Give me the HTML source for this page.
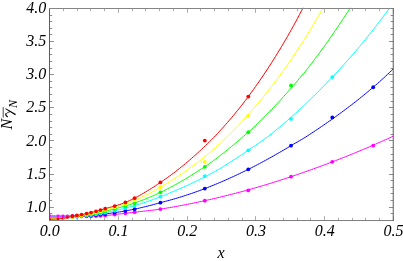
<!DOCTYPE html>
<html><head><meta charset="utf-8"><title>plot</title><style>
html,body{margin:0;padding:0;background:#fff;}
svg{display:block;will-change:transform;transform:translateZ(0);}
text{font-family:"Liberation Serif",serif;font-style:italic;font-size:16px;fill:#000;}
</style></head><body>
<svg width="403" height="261" viewBox="0 0 403 261">
<rect width="403" height="261" fill="#fff"/>
<defs><clipPath id="c"><rect x="49.5" y="7.7" width="343.75" height="212.60"/></clipPath><clipPath id="d"><rect x="49.0" y="0" width="400" height="220.9"/></clipPath></defs>
<g clip-path="url(#c)" fill="none" stroke-width="1.0" stroke-linejoin="round">
<path d="M49.5,215.73 L51.5,215.77 L53.5,215.80 L55.5,215.83 L57.5,215.86 L59.5,215.87 L61.5,215.89 L63.5,215.89 L65.5,215.89 L67.5,215.88 L69.5,215.88 L71.5,215.88 L73.5,215.88 L75.5,215.89 L77.5,215.89 L79.5,215.98 L81.5,216.11 L83.5,216.22 L85.5,216.24 L87.5,216.23 L89.5,216.20 L91.5,216.17 L93.5,216.12 L95.5,216.06 L97.5,215.98 L99.5,215.89 L101.5,215.78 L103.5,215.66 L105.5,215.53 L107.5,215.36 L109.5,215.16 L111.5,214.94 L113.5,214.70 L115.5,214.46 L117.5,214.22 L119.5,213.98 L121.5,213.76 L123.5,213.52 L125.5,213.28 L127.5,213.04 L129.5,212.80 L131.5,212.56 L133.5,212.32 L135.5,212.09 L137.5,211.86 L139.5,211.64 L141.5,211.43 L143.5,211.21 L145.5,210.99 L147.5,210.77 L149.5,210.54 L151.5,210.31 L153.5,210.06 L155.5,209.81 L157.5,209.53 L159.5,209.24 L161.5,208.94 L163.5,208.62 L165.5,208.30 L167.5,207.97 L169.5,207.63 L171.5,207.28 L173.5,206.93 L175.5,206.57 L177.5,206.20 L179.5,205.83 L181.5,205.45 L183.5,205.07 L185.5,204.68 L187.5,204.28 L189.5,203.88 L191.5,203.48 L193.5,203.07 L195.5,202.65 L197.5,202.24 L199.5,201.81 L201.5,201.39 L203.5,200.95 L205.5,200.52 L207.5,200.07 L209.5,199.62 L211.5,199.17 L213.5,198.71 L215.5,198.24 L217.5,197.77 L219.5,197.30 L221.5,196.81 L223.5,196.33 L225.5,195.83 L227.5,195.34 L229.5,194.83 L231.5,194.32 L233.5,193.81 L235.5,193.29 L237.5,192.76 L239.5,192.23 L241.5,191.69 L243.5,191.15 L245.5,190.60 L247.5,190.05 L249.5,189.49 L251.5,188.93 L253.5,188.36 L255.5,187.78 L257.5,187.21 L259.5,186.62 L261.5,186.03 L263.5,185.43 L265.5,184.83 L267.5,184.23 L269.5,183.61 L271.5,183.00 L273.5,182.37 L275.5,181.75 L277.5,181.11 L279.5,180.48 L281.5,179.83 L283.5,179.18 L285.5,178.53 L287.5,177.87 L289.5,177.21 L291.5,176.54 L293.5,175.87 L295.5,175.19 L297.5,174.50 L299.5,173.81 L301.5,173.12 L303.5,172.42 L305.5,171.72 L307.5,171.01 L309.5,170.30 L311.5,169.58 L313.5,168.86 L315.5,168.13 L317.5,167.41 L319.5,166.67 L321.5,165.93 L323.5,165.19 L325.5,164.44 L327.5,163.69 L329.5,162.93 L331.5,162.17 L333.5,161.40 L335.5,160.63 L337.5,159.85 L339.5,159.07 L341.5,158.28 L343.5,157.49 L345.5,156.70 L347.5,155.90 L349.5,155.09 L351.5,154.28 L353.5,153.46 L355.5,152.65 L357.5,151.82 L359.5,150.99 L361.5,150.16 L363.5,149.32 L365.5,148.47 L367.5,147.63 L369.5,146.77 L371.5,145.91 L373.5,145.05 L375.5,144.18 L377.5,143.30 L379.5,142.41 L381.5,141.51 L383.5,140.61 L385.5,139.70 L387.5,138.79 L389.5,137.87 L391.5,136.95 L393.2,136.14" stroke="#ff00ff"/>
<path d="M49.5,217.10 L51.5,217.13 L53.5,217.15 L55.5,217.16 L57.5,217.16 L59.5,217.15 L61.5,217.13 L63.5,217.10 L65.5,217.05 L67.5,217.00 L69.5,216.94 L71.5,216.86 L73.5,216.77 L75.5,216.68 L77.5,216.57 L79.5,216.45 L81.5,216.32 L83.5,216.18 L85.5,216.03 L87.5,215.87 L89.5,215.70 L91.5,215.51 L93.5,215.32 L95.5,215.12 L97.5,214.90 L99.5,214.68 L101.5,214.44 L103.5,214.20 L105.5,213.95 L107.5,213.68 L109.5,213.41 L111.5,213.13 L113.5,212.85 L115.5,212.55 L117.5,212.24 L119.5,211.92 L121.5,211.59 L123.5,211.25 L125.5,210.90 L127.5,210.53 L129.5,210.15 L131.5,209.76 L133.5,209.36 L135.5,208.94 L137.5,208.51 L139.5,208.06 L141.5,207.59 L143.5,207.12 L145.5,206.63 L147.5,206.13 L149.5,205.61 L151.5,205.09 L153.5,204.57 L155.5,204.03 L157.5,203.49 L159.5,202.95 L161.5,202.40 L163.5,201.87 L165.5,201.33 L167.5,200.79 L169.5,200.25 L171.5,199.70 L173.5,199.13 L175.5,198.54 L177.5,197.94 L179.5,197.33 L181.5,196.71 L183.5,196.08 L185.5,195.44 L187.5,194.79 L189.5,194.12 L191.5,193.45 L193.5,192.76 L195.5,192.05 L197.5,191.33 L199.5,190.60 L201.5,189.85 L203.5,189.10 L205.5,188.33 L207.5,187.55 L209.5,186.76 L211.5,185.96 L213.5,185.14 L215.5,184.32 L217.5,183.49 L219.5,182.64 L221.5,181.79 L223.5,180.92 L225.5,180.05 L227.5,179.16 L229.5,178.26 L231.5,177.36 L233.5,176.44 L235.5,175.51 L237.5,174.57 L239.5,173.63 L241.5,172.67 L243.5,171.70 L245.5,170.72 L247.5,169.73 L249.5,168.74 L251.5,167.73 L253.5,166.71 L255.5,165.67 L257.5,164.63 L259.5,163.57 L261.5,162.51 L263.5,161.43 L265.5,160.34 L267.5,159.24 L269.5,158.13 L271.5,157.02 L273.5,155.89 L275.5,154.75 L277.5,153.60 L279.5,152.45 L281.5,151.28 L283.5,150.11 L285.5,148.93 L287.5,147.74 L289.5,146.55 L291.5,145.34 L293.5,144.17 L295.5,143.01 L297.5,141.87 L299.5,140.73 L301.5,139.57 L303.5,138.37 L305.5,137.13 L307.5,135.85 L309.5,134.55 L311.5,133.24 L313.5,131.93 L315.5,130.60 L317.5,129.26 L319.5,127.91 L321.5,126.55 L323.5,125.18 L325.5,123.80 L327.5,122.41 L329.5,121.00 L331.5,119.59 L333.5,118.17 L335.5,116.73 L337.5,115.29 L339.5,113.83 L341.5,112.36 L343.5,110.88 L345.5,109.40 L347.5,107.90 L349.5,106.38 L351.5,104.86 L353.5,103.32 L355.5,101.76 L357.5,100.18 L359.5,98.58 L361.5,96.97 L363.5,95.34 L365.5,93.70 L367.5,92.04 L369.5,90.37 L371.5,88.69 L373.5,86.99 L375.5,85.27 L377.5,83.52 L379.5,81.74 L381.5,79.93 L383.5,78.11 L385.5,76.26 L387.5,74.39 L389.5,72.50 L391.5,70.59 L393.2,68.91" stroke="#0000ff"/>
<path d="M49.5,217.32 L51.5,217.40 L53.5,217.46 L55.5,217.49 L57.5,217.51 L59.5,217.51 L61.5,217.49 L63.5,217.45 L65.5,217.40 L67.5,217.32 L69.5,217.22 L71.5,217.11 L73.5,216.98 L75.5,216.83 L77.5,216.66 L79.5,216.48 L81.5,216.28 L83.5,216.06 L85.5,215.83 L87.5,215.57 L89.5,215.30 L91.5,215.02 L93.5,214.72 L95.5,214.40 L97.5,214.07 L99.5,213.72 L101.5,213.36 L103.5,212.98 L105.5,212.60 L107.5,212.20 L109.5,211.79 L111.5,211.38 L113.5,210.94 L115.5,210.50 L117.5,210.04 L119.5,209.57 L121.5,209.09 L123.5,208.59 L125.5,208.08 L127.5,207.56 L129.5,207.02 L131.5,206.46 L133.5,205.89 L135.5,205.31 L137.5,204.71 L139.5,204.11 L141.5,203.49 L143.5,202.86 L145.5,202.21 L147.5,201.53 L149.5,200.84 L151.5,200.11 L153.5,199.36 L155.5,198.59 L157.5,197.80 L159.5,197.02 L161.5,196.23 L163.5,195.44 L165.5,194.65 L167.5,193.84 L169.5,193.03 L171.5,192.21 L173.5,191.39 L175.5,190.55 L177.5,189.71 L179.5,188.85 L181.5,187.98 L183.5,187.10 L185.5,186.21 L187.5,185.31 L189.5,184.39 L191.5,183.46 L193.5,182.51 L195.5,181.55 L197.5,180.57 L199.5,179.58 L201.5,178.57 L203.5,177.55 L205.5,176.52 L207.5,175.47 L209.5,174.42 L211.5,173.34 L213.5,172.25 L215.5,171.15 L217.5,170.02 L219.5,168.87 L221.5,167.69 L223.5,166.45 L225.5,165.16 L227.5,163.85 L229.5,162.57 L231.5,161.32 L233.5,160.06 L235.5,158.79 L237.5,157.51 L239.5,156.21 L241.5,154.90 L243.5,153.57 L245.5,152.23 L247.5,150.87 L249.5,149.50 L251.5,148.12 L253.5,146.74 L255.5,145.37 L257.5,143.98 L259.5,142.59 L261.5,141.17 L263.5,139.74 L265.5,138.28 L267.5,136.79 L269.5,135.26 L271.5,133.71 L273.5,132.12 L275.5,130.51 L277.5,128.87 L279.5,127.21 L281.5,125.53 L283.5,123.82 L285.5,122.10 L287.5,120.35 L289.5,118.59 L291.5,116.81 L293.5,115.02 L295.5,113.22 L297.5,111.40 L299.5,109.58 L301.5,107.75 L303.5,105.90 L305.5,104.03 L307.5,102.14 L309.5,100.23 L311.5,98.30 L313.5,96.35 L315.5,94.38 L317.5,92.38 L319.5,90.37 L321.5,88.34 L323.5,86.30 L325.5,84.23 L327.5,82.15 L329.5,80.05 L331.5,77.94 L333.5,75.82 L335.5,73.67 L337.5,71.52 L339.5,69.35 L341.5,67.17 L343.5,64.97 L345.5,62.74 L347.5,60.50 L349.5,58.23 L351.5,55.94 L353.5,53.63 L355.5,51.29 L357.5,48.93 L359.5,46.56 L361.5,44.15 L363.5,41.73 L365.5,39.28 L367.5,36.81 L369.5,34.32 L371.5,31.80 L373.5,29.26 L375.5,26.70 L377.5,24.11 L379.5,21.50 L381.5,18.86 L383.5,16.20 L385.5,13.52 L387.5,10.81 L389.5,8.07 L391.5,5.32" stroke="#00ffff"/>
<path d="M49.5,218.19 L51.5,218.15 L53.5,218.10 L55.5,218.03 L57.5,217.95 L59.5,217.86 L61.5,217.75 L63.5,217.62 L65.5,217.48 L67.5,217.32 L69.5,217.13 L71.5,216.91 L73.5,216.66 L75.5,216.39 L77.5,216.12 L79.5,215.85 L81.5,215.58 L83.5,215.30 L85.5,215.00 L87.5,214.68 L89.5,214.35 L91.5,214.00 L93.5,213.64 L95.5,213.26 L97.5,212.86 L99.5,212.44 L101.5,212.01 L103.5,211.56 L105.5,211.10 L107.5,210.63 L109.5,210.15 L111.5,209.67 L113.5,209.18 L115.5,208.67 L117.5,208.14 L119.5,207.60 L121.5,207.05 L123.5,206.48 L125.5,205.90 L127.5,205.30 L129.5,204.68 L131.5,204.04 L133.5,203.38 L135.5,202.69 L137.5,201.98 L139.5,201.26 L141.5,200.51 L143.5,199.75 L145.5,198.96 L147.5,198.15 L149.5,197.31 L151.5,196.44 L153.5,195.55 L155.5,194.65 L157.5,193.73 L159.5,192.79 L161.5,191.83 L163.5,190.85 L165.5,189.86 L167.5,188.84 L169.5,187.81 L171.5,186.76 L173.5,185.69 L175.5,184.60 L177.5,183.49 L179.5,182.36 L181.5,181.22 L183.5,180.05 L185.5,178.87 L187.5,177.66 L189.5,176.44 L191.5,175.20 L193.5,173.94 L195.5,172.66 L197.5,171.36 L199.5,170.04 L201.5,168.79 L203.5,167.66 L205.5,166.36 L207.5,164.95 L209.5,163.53 L211.5,162.08 L213.5,160.61 L215.5,159.12 L217.5,157.61 L219.5,156.08 L221.5,154.53 L223.5,152.96 L225.5,151.37 L227.5,149.76 L229.5,148.14 L231.5,146.50 L233.5,144.84 L235.5,143.17 L237.5,141.48 L239.5,139.78 L241.5,138.05 L243.5,136.31 L245.5,134.62 L247.5,132.92 L249.5,131.17 L251.5,129.32 L253.5,127.44 L255.5,125.55 L257.5,123.63 L259.5,121.69 L261.5,119.72 L263.5,117.74 L265.5,115.73 L267.5,113.70 L269.5,111.65 L271.5,109.58 L273.5,107.48 L275.5,105.37 L277.5,103.22 L279.5,101.06 L281.5,98.88 L283.5,96.68 L285.5,94.46 L287.5,92.22 L289.5,89.96 L291.5,87.67 L293.5,85.37 L295.5,83.05 L297.5,80.70 L299.5,78.33 L301.5,75.97 L303.5,73.64 L305.5,71.20 L307.5,68.69 L309.5,66.14 L311.5,63.56 L313.5,60.93 L315.5,58.27 L317.5,55.58 L319.5,52.86 L321.5,50.12 L323.5,47.35 L325.5,44.55 L327.5,41.74 L329.5,38.90 L331.5,36.04 L333.5,33.16 L335.5,30.24 L337.5,27.30 L339.5,24.33 L341.5,21.34 L343.5,18.32 L345.5,15.28 L347.5,12.22 L349.5,9.13 L351.5,6.02 L353.5,2.89" stroke="#00ff00"/>
<path d="M49.5,218.86 L51.5,218.80 L53.5,218.73 L55.5,218.64 L57.5,218.53 L59.5,218.40 L61.5,218.25 L63.5,218.09 L65.5,217.91 L67.5,217.70 L69.5,217.44 L71.5,217.13 L73.5,216.79 L75.5,216.42 L77.5,216.05 L79.5,215.70 L81.5,215.37 L83.5,215.02 L85.5,214.64 L87.5,214.25 L89.5,213.84 L91.5,213.42 L93.5,212.97 L95.5,212.50 L97.5,212.01 L99.5,211.51 L101.5,210.98 L103.5,210.44 L105.5,209.87 L107.5,209.31 L109.5,208.76 L111.5,208.20 L113.5,207.64 L115.5,207.06 L117.5,206.45 L119.5,205.81 L121.5,205.18 L123.5,204.53 L125.5,203.86 L127.5,203.16 L129.5,202.44 L131.5,201.67 L133.5,200.86 L135.5,200.00 L137.5,199.11 L139.5,198.20 L141.5,197.28 L143.5,196.33 L145.5,195.36 L147.5,194.36 L149.5,193.35 L151.5,192.31 L153.5,191.22 L155.5,190.09 L157.5,188.94 L159.5,187.78 L161.5,186.63 L163.5,185.45 L165.5,184.26 L167.5,183.04 L169.5,181.81 L171.5,180.55 L173.5,179.27 L175.5,177.97 L177.5,176.65 L179.5,175.31 L181.5,173.94 L183.5,172.55 L185.5,171.15 L187.5,169.71 L189.5,168.26 L191.5,166.81 L193.5,165.37 L195.5,163.94 L197.5,162.47 L199.5,160.95 L201.5,159.36 L203.5,157.74 L205.5,156.10 L207.5,154.43 L209.5,152.74 L211.5,151.02 L213.5,149.27 L215.5,147.50 L217.5,145.71 L219.5,143.89 L221.5,142.04 L223.5,140.17 L225.5,138.27 L227.5,136.34 L229.5,134.38 L231.5,132.39 L233.5,130.36 L235.5,128.30 L237.5,126.20 L239.5,124.08 L241.5,121.93 L243.5,119.75 L245.5,117.54 L247.5,115.31 L249.5,113.05 L251.5,110.76 L253.5,108.45 L255.5,106.12 L257.5,103.77 L259.5,101.40 L261.5,98.99 L263.5,96.55 L265.5,94.09 L267.5,91.59 L269.5,89.05 L271.5,86.49 L273.5,83.89 L275.5,81.26 L277.5,78.60 L279.5,75.90 L281.5,73.17 L283.5,70.40 L285.5,67.59 L287.5,64.75 L289.5,61.87 L291.5,58.94 L293.5,55.99 L295.5,52.99 L297.5,49.96 L299.5,46.89 L301.5,43.78 L303.5,40.64 L305.5,37.46 L307.5,34.25 L309.5,30.99 L311.5,27.69 L313.5,24.35 L315.5,20.97 L317.5,17.55 L319.5,14.08 L321.5,10.58 L323.5,7.02 L325.5,3.42" stroke="#ffff00"/>
<path d="M49.5,219.27 L51.5,219.24 L53.5,219.17 L55.5,219.07 L57.5,218.92 L59.5,218.74 L61.5,218.53 L63.5,218.30 L65.5,217.94 L67.5,217.52 L69.5,216.98 L71.5,216.43 L73.5,216.07 L75.5,215.73 L77.5,215.38 L79.5,215.01 L81.5,214.63 L83.5,214.24 L85.5,213.82 L87.5,213.39 L89.5,212.94 L91.5,212.47 L93.5,211.98 L95.5,211.46 L97.5,210.92 L99.5,210.36 L101.5,209.78 L103.5,209.18 L105.5,208.55 L107.5,207.97 L109.5,207.45 L111.5,206.95 L113.5,206.42 L115.5,205.82 L117.5,205.21 L119.5,204.57 L121.5,203.90 L123.5,203.16 L125.5,202.34 L127.5,201.47 L129.5,200.57 L131.5,199.64 L133.5,198.68 L135.5,197.68 L137.5,196.62 L139.5,195.52 L141.5,194.38 L143.5,193.21 L145.5,192.00 L147.5,190.78 L149.5,189.55 L151.5,188.30 L153.5,187.02 L155.5,185.72 L157.5,184.40 L159.5,183.07 L161.5,181.72 L163.5,180.35 L165.5,178.95 L167.5,177.53 L169.5,176.09 L171.5,174.61 L173.5,173.11 L175.5,171.59 L177.5,170.03 L179.5,168.45 L181.5,166.85 L183.5,165.22 L185.5,163.56 L187.5,161.88 L189.5,160.18 L191.5,158.45 L193.5,156.69 L195.5,154.91 L197.5,153.11 L199.5,151.27 L201.5,149.41 L203.5,147.52 L205.5,145.60 L207.5,143.68 L209.5,141.74 L211.5,139.76 L213.5,137.74 L215.5,135.66 L217.5,133.53 L219.5,131.37 L221.5,129.18 L223.5,126.96 L225.5,124.71 L227.5,122.43 L229.5,120.11 L231.5,117.77 L233.5,115.39 L235.5,112.98 L237.5,110.53 L239.5,108.05 L241.5,105.53 L243.5,102.98 L245.5,100.37 L247.5,97.70 L249.5,94.98 L251.5,92.22 L253.5,89.43 L255.5,86.63 L257.5,83.79 L259.5,80.91 L261.5,78.00 L263.5,75.04 L265.5,72.05 L267.5,69.01 L269.5,65.94 L271.5,62.83 L273.5,59.67 L275.5,56.48 L277.5,53.24 L279.5,49.97 L281.5,46.65 L283.5,43.29 L285.5,39.88 L287.5,36.43 L289.5,32.93 L291.5,29.38 L293.5,25.77 L295.5,22.11 L297.5,18.39 L299.5,14.62 L301.5,10.79 L303.5,6.90 L305.5,2.95" stroke="#ff0000"/>
</g>
<g clip-path="url(#d)">
<circle cx="49.5" cy="215.73" r="1.45" fill="#ff00ff"/>
<circle cx="58.0" cy="215.86" r="1.45" fill="#ff00ff"/>
<circle cx="62.9" cy="215.89" r="1.45" fill="#ff00ff"/>
<circle cx="67.4" cy="215.88" r="1.45" fill="#ff00ff"/>
<circle cx="72.4" cy="215.88" r="1.9" fill="#ff00ff"/>
<circle cx="76.9" cy="215.89" r="1.9" fill="#ff00ff"/>
<circle cx="81.6" cy="216.11" r="1.9" fill="#ff00ff"/>
<circle cx="86.6" cy="216.24" r="1.9" fill="#ff00ff"/>
<circle cx="91.0" cy="216.18" r="1.9" fill="#ff00ff"/>
<circle cx="96.0" cy="216.04" r="1.9" fill="#ff00ff"/>
<circle cx="100.5" cy="215.84" r="1.9" fill="#ff00ff"/>
<circle cx="105.2" cy="215.55" r="1.9" fill="#ff00ff"/>
<circle cx="114.7" cy="214.56" r="1.9" fill="#ff00ff"/>
<circle cx="125.4" cy="213.30" r="1.9" fill="#ff00ff"/>
<circle cx="134.6" cy="212.19" r="1.9" fill="#ff00ff"/>
<circle cx="160.4" cy="209.11" r="1.9" fill="#ff00ff"/>
<circle cx="204.8" cy="200.67" r="1.9" fill="#ff00ff"/>
<circle cx="248.3" cy="190.30" r="1.9" fill="#ff00ff"/>
<circle cx="291.0" cy="176.71" r="1.9" fill="#ff00ff"/>
<circle cx="332.3" cy="161.86" r="1.9" fill="#ff00ff"/>
<circle cx="373.2" cy="145.60" r="1.9" fill="#ff00ff"/>
<circle cx="72.4" cy="216.82" r="1.9" fill="#0000ff"/>
<circle cx="76.9" cy="216.60" r="1.9" fill="#0000ff"/>
<circle cx="81.6" cy="216.31" r="1.9" fill="#0000ff"/>
<circle cx="86.6" cy="215.94" r="1.9" fill="#0000ff"/>
<circle cx="91.0" cy="215.56" r="1.9" fill="#0000ff"/>
<circle cx="96.0" cy="215.06" r="1.9" fill="#0000ff"/>
<circle cx="100.5" cy="214.56" r="1.9" fill="#0000ff"/>
<circle cx="105.2" cy="213.99" r="1.9" fill="#0000ff"/>
<circle cx="114.7" cy="212.67" r="1.9" fill="#0000ff"/>
<circle cx="125.4" cy="210.91" r="1.9" fill="#0000ff"/>
<circle cx="134.6" cy="209.13" r="1.9" fill="#0000ff"/>
<circle cx="160.4" cy="202.70" r="1.9" fill="#0000ff"/>
<circle cx="204.8" cy="188.60" r="1.9" fill="#0000ff"/>
<circle cx="248.3" cy="169.34" r="1.9" fill="#0000ff"/>
<circle cx="291.0" cy="145.64" r="1.9" fill="#0000ff"/>
<circle cx="332.3" cy="117.40" r="1.9" fill="#0000ff"/>
<circle cx="373.2" cy="87.25" r="1.9" fill="#0000ff"/>
<circle cx="72.4" cy="217.05" r="1.9" fill="#00ffff"/>
<circle cx="76.9" cy="216.72" r="1.9" fill="#00ffff"/>
<circle cx="81.6" cy="216.27" r="1.9" fill="#00ffff"/>
<circle cx="86.6" cy="215.69" r="1.9" fill="#00ffff"/>
<circle cx="91.0" cy="215.09" r="1.9" fill="#00ffff"/>
<circle cx="96.0" cy="214.32" r="1.9" fill="#00ffff"/>
<circle cx="100.5" cy="213.54" r="1.9" fill="#00ffff"/>
<circle cx="105.2" cy="212.66" r="1.9" fill="#00ffff"/>
<circle cx="114.7" cy="210.68" r="1.9" fill="#00ffff"/>
<circle cx="125.4" cy="208.11" r="1.9" fill="#00ffff"/>
<circle cx="134.6" cy="205.57" r="1.9" fill="#00ffff"/>
<circle cx="160.4" cy="196.66" r="1.9" fill="#00ffff"/>
<circle cx="204.8" cy="176.10" r="1.9" fill="#00ffff"/>
<circle cx="248.3" cy="150.32" r="1.9" fill="#00ffff"/>
<circle cx="291.0" cy="118.90" r="1.9" fill="#00ffff"/>
<circle cx="332.3" cy="77.09" r="1.9" fill="#00ffff"/>
<circle cx="72.4" cy="216.80" r="1.9" fill="#00ff00"/>
<circle cx="76.9" cy="216.20" r="1.9" fill="#00ff00"/>
<circle cx="81.6" cy="215.57" r="1.9" fill="#00ff00"/>
<circle cx="86.6" cy="214.83" r="1.9" fill="#00ff00"/>
<circle cx="91.0" cy="214.09" r="1.9" fill="#00ff00"/>
<circle cx="96.0" cy="213.16" r="1.9" fill="#00ff00"/>
<circle cx="100.5" cy="212.23" r="1.9" fill="#00ff00"/>
<circle cx="105.2" cy="211.17" r="1.9" fill="#00ff00"/>
<circle cx="114.7" cy="208.88" r="1.9" fill="#00ff00"/>
<circle cx="125.4" cy="205.93" r="1.9" fill="#00ff00"/>
<circle cx="134.6" cy="203.00" r="1.9" fill="#00ff00"/>
<circle cx="160.4" cy="192.36" r="1.9" fill="#00ff00"/>
<circle cx="204.8" cy="166.84" r="1.9" fill="#00ff00"/>
<circle cx="248.3" cy="132.23" r="1.9" fill="#00ff00"/>
<circle cx="291.0" cy="85.40" r="1.9" fill="#00ff00"/>
<circle cx="72.4" cy="216.98" r="1.9" fill="#ffff00"/>
<circle cx="76.9" cy="216.16" r="1.9" fill="#ffff00"/>
<circle cx="81.6" cy="215.35" r="1.9" fill="#ffff00"/>
<circle cx="86.6" cy="214.43" r="1.9" fill="#ffff00"/>
<circle cx="91.0" cy="213.52" r="1.9" fill="#ffff00"/>
<circle cx="96.0" cy="212.38" r="1.9" fill="#ffff00"/>
<circle cx="100.5" cy="211.25" r="1.9" fill="#ffff00"/>
<circle cx="105.2" cy="209.96" r="1.9" fill="#ffff00"/>
<circle cx="114.7" cy="207.29" r="1.9" fill="#ffff00"/>
<circle cx="125.4" cy="203.89" r="1.9" fill="#ffff00"/>
<circle cx="134.6" cy="200.39" r="1.9" fill="#ffff00"/>
<circle cx="160.4" cy="187.26" r="1.9" fill="#ffff00"/>
<circle cx="204.8" cy="161.90" r="1.9" fill="#ffff00"/>
<circle cx="248.3" cy="115.80" r="1.9" fill="#ffff00"/>
<circle cx="49.5" cy="219.27" r="1.45" fill="#ff0000"/>
<circle cx="58.0" cy="218.88" r="1.45" fill="#ff0000"/>
<circle cx="62.9" cy="218.38" r="1.45" fill="#ff0000"/>
<circle cx="67.4" cy="217.55" r="1.45" fill="#ff0000"/>
<circle cx="72.4" cy="216.26" r="1.9" fill="#ff0000"/>
<circle cx="76.9" cy="215.49" r="1.9" fill="#ff0000"/>
<circle cx="81.6" cy="214.61" r="1.9" fill="#ff0000"/>
<circle cx="86.6" cy="213.59" r="1.9" fill="#ff0000"/>
<circle cx="91.0" cy="212.59" r="1.9" fill="#ff0000"/>
<circle cx="96.0" cy="211.33" r="1.9" fill="#ff0000"/>
<circle cx="100.5" cy="210.08" r="1.9" fill="#ff0000"/>
<circle cx="105.2" cy="208.64" r="1.9" fill="#ff0000"/>
<circle cx="114.7" cy="206.06" r="1.9" fill="#ff0000"/>
<circle cx="125.4" cy="202.38" r="1.9" fill="#ff0000"/>
<circle cx="134.6" cy="198.13" r="1.9" fill="#ff0000"/>
<circle cx="160.4" cy="182.46" r="1.9" fill="#ff0000"/>
<circle cx="204.8" cy="140.60" r="1.9" fill="#ff0000"/>
<circle cx="248.3" cy="96.62" r="1.9" fill="#ff0000"/>
</g>
<path d="M49.5,220.5v-4.3M49.5,8.5v4.3M63.5,220.5v-2.7M63.5,8.5v2.7M77.5,220.5v-2.7M77.5,8.5v2.7M90.5,220.5v-2.7M90.5,8.5v2.7M104.5,220.5v-2.7M104.5,8.5v2.7M118.5,220.5v-4.3M118.5,8.5v4.3M132.5,220.5v-2.7M132.5,8.5v2.7M145.5,220.5v-2.7M145.5,8.5v2.7M159.5,220.5v-2.7M159.5,8.5v2.7M173.5,220.5v-2.7M173.5,8.5v2.7M187.5,220.5v-4.3M187.5,8.5v4.3M200.5,220.5v-2.7M200.5,8.5v2.7M214.5,220.5v-2.7M214.5,8.5v2.7M228.5,220.5v-2.7M228.5,8.5v2.7M242.5,220.5v-2.7M242.5,8.5v2.7M255.5,220.5v-4.3M255.5,8.5v4.3M269.5,220.5v-2.7M269.5,8.5v2.7M283.5,220.5v-2.7M283.5,8.5v2.7M297.5,220.5v-2.7M297.5,8.5v2.7M310.5,220.5v-2.7M310.5,8.5v2.7M324.5,220.5v-4.3M324.5,8.5v4.3M338.5,220.5v-2.7M338.5,8.5v2.7M352.5,220.5v-2.7M352.5,8.5v2.7M365.5,220.5v-2.7M365.5,8.5v2.7M379.5,220.5v-2.7M379.5,8.5v2.7M393.5,220.5v-4.3M393.5,8.5v4.3" stroke="#acacac" stroke-width="1" fill="none"/>
<path d="M49.5,220.5h2.7M393.25,220.5h-2.7M49.5,213.5h2.7M393.25,213.5h-2.7M49.5,207.5h4.3M393.25,207.5h-4.3M49.5,200.5h2.7M393.25,200.5h-2.7M49.5,193.5h2.7M393.25,193.5h-2.7M49.5,187.5h2.7M393.25,187.5h-2.7M49.5,180.5h2.7M393.25,180.5h-2.7M49.5,174.5h4.3M393.25,174.5h-4.3M49.5,167.5h2.7M393.25,167.5h-2.7M49.5,160.5h2.7M393.25,160.5h-2.7M49.5,154.5h2.7M393.25,154.5h-2.7M49.5,147.5h2.7M393.25,147.5h-2.7M49.5,140.5h4.3M393.25,140.5h-4.3M49.5,134.5h2.7M393.25,134.5h-2.7M49.5,127.5h2.7M393.25,127.5h-2.7M49.5,121.5h2.7M393.25,121.5h-2.7M49.5,114.5h2.7M393.25,114.5h-2.7M49.5,107.5h4.3M393.25,107.5h-4.3M49.5,101.5h2.7M393.25,101.5h-2.7M49.5,94.5h2.7M393.25,94.5h-2.7M49.5,87.5h2.7M393.25,87.5h-2.7M49.5,81.5h2.7M393.25,81.5h-2.7M49.5,74.5h4.3M393.25,74.5h-4.3M49.5,68.5h2.7M393.25,68.5h-2.7M49.5,61.5h2.7M393.25,61.5h-2.7M49.5,54.5h2.7M393.25,54.5h-2.7M49.5,48.5h2.7M393.25,48.5h-2.7M49.5,41.5h4.3M393.25,41.5h-4.3M49.5,34.5h2.7M393.25,34.5h-2.7M49.5,28.5h2.7M393.25,28.5h-2.7M49.5,21.5h2.7M393.25,21.5h-2.7M49.5,15.5h2.7M393.25,15.5h-2.7M49.5,8.5h4.3M393.25,8.5h-4.3" stroke="#8e8e8e" stroke-width="1" fill="none"/>
<path d="M49.5,8.0V221.0" stroke="#5c5c5c" stroke-width="1"/>
<path d="M49.0,8.5H393.75" stroke="#858585" stroke-width="1"/>
<path d="M49.0,220.5H393.75" stroke="#808080" stroke-width="1"/>
<path d="M393.25,8.0V221.0" stroke="#686868" stroke-width="1.1"/>
<text x="46.3" y="211.76" text-anchor="end">1.0</text>
<text x="46.3" y="178.65" text-anchor="end">1.5</text>
<text x="46.3" y="145.54" text-anchor="end">2.0</text>
<text x="46.3" y="112.43" text-anchor="end">2.5</text>
<text x="46.3" y="79.32" text-anchor="end">3.0</text>
<text x="46.3" y="46.21" text-anchor="end">3.5</text>
<text x="46.3" y="13.10" text-anchor="end">4.0</text>
<text x="49.70" y="236.4" text-anchor="middle">0.0</text>
<text x="118.45" y="236.4" text-anchor="middle">0.1</text>
<text x="187.20" y="236.4" text-anchor="middle">0.2</text>
<text x="255.95" y="236.4" text-anchor="middle">0.3</text>
<text x="324.70" y="236.4" text-anchor="middle">0.4</text>
<text x="393.45" y="236.4" text-anchor="middle">0.5</text>
<text x="221.1" y="257.8" text-anchor="middle">x</text>
<g transform="translate(12.4,129.4) rotate(-90)">
<text x="0" y="0">N</text>
<path d="M11.8,-9.2h10.5" stroke="#000" stroke-width="0.7"/>
<text x="21.4" y="4.8" style="font-size:12px">N</text>
</g>
<path d="M5.3,108.9L5.7,108.3L15.9,113.9L15.2,115.2Z" fill="#000"/>
<path d="M10.4,111.6C8.3,112.2 6.4,113.0 5.8,114.2" stroke="#000" stroke-width="0.8" fill="none"/><path d="M5.8,114.0C5.5,115.0 6.2,116.0 7.3,116.6" stroke="#000" stroke-width="1.3" fill="none" stroke-linecap="round"/>
</svg>
</body></html>
